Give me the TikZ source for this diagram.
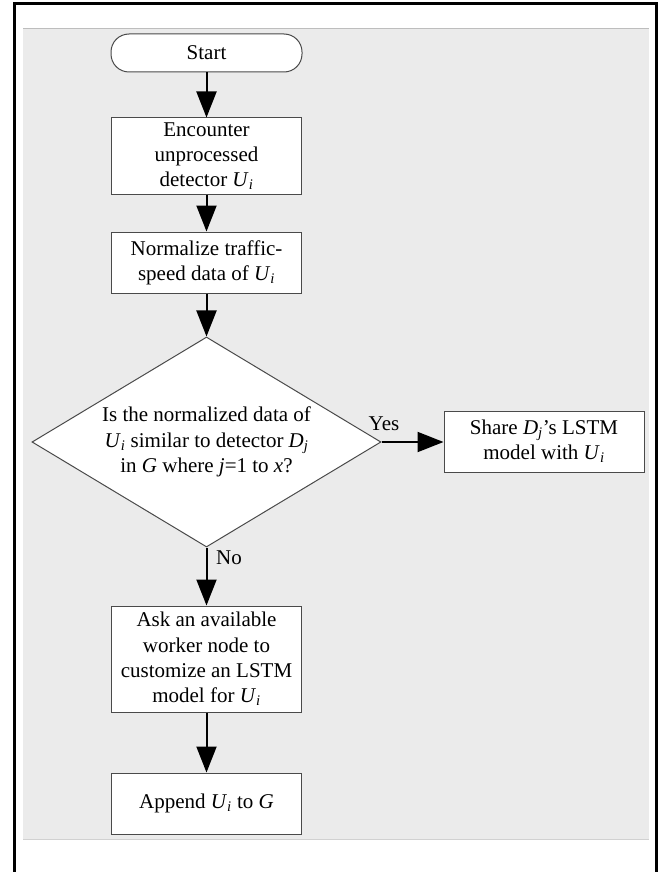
\documentclass[tikz,border=0pt]{standalone}
\usepackage{fontspec}
\setmainfont{Liberation Serif}
\usetikzlibrary{arrows.meta,shapes.geometric}
\definecolor{boxgray}{HTML}{4A4A4A}
\definecolor{bggray}{HTML}{EBEBEB}
\definecolor{lingray}{HTML}{BDBDBD}
\newcommand{\Ui}{\textit{U}\textsubscript{\textit{i}}}
\newcommand{\Dj}{\textit{D}\textsubscript{\textit{j}}}
\newcommand{\fs}{\fontsize{21pt}{25.3pt}\selectfont}
\begin{document}
\begin{tikzpicture}[x=1pt,y=-1pt,
  box/.style={draw=boxgray, line width=1pt, fill=white, inner sep=0pt, align=center, font=\fs, minimum width=190pt},
  arr/.style={line width=2pt, -{Triangle[length=26pt,width=20pt]}},
  lbl/.style={font=\fs, inner sep=0pt}]
\useasboundingbox (0,0) rectangle (661,872);
% background
\fill[bggray] (23,28) rectangle (649,840);
\draw[lingray, line width=1pt] (23,28.5) -- (649,28.5);
\draw[lingray!70, line width=1pt] (23,839.5) -- (649,839.5);
\draw[black, line width=2.5pt] (14.5,872) -- (14.5,3.5) -- (656.5,3.5) -- (656.5,872);
% nodes
\node[box, rounded corners=18pt, minimum height=38pt, minimum width=191pt] (start) at (206.5,53) {Start};
\node[box, minimum height=76pt] (enc) at (206.5,156) {Encounter\\unprocessed\\detector \Ui};
\node[box, minimum height=61pt] (norm) at (206.5,262.5) {Normalize traffic-\\speed data of \Ui};
\node[box, shape=diamond, shape aspect=1.66, minimum width=349pt, minimum height=210pt] (dec) at (206.5,442)
  {Is the normalized data of\\\Ui{} similar to detector \Dj\\in \textit{G} where \textit{j}=1 to \textit{x}?};
\node[box, minimum width=200pt, minimum height=61pt] (share) at (544,441.5) {Share \Dj’s LSTM\\model with \Ui};
\node[box, minimum height=106pt] (ask) at (206.5,659) {Ask an available\\worker node to\\customize an LSTM\\model for \Ui};
\node[box, minimum height=61pt] (app) at (206.5,803.5) {Append \Ui{} to \textit{G}};
% connectors
\draw[arr] (start) -- (enc);
\draw[arr] (enc) -- (norm);
\draw[arr] (norm) -- (dec);
\draw[arr] (dec.east) -- (dec.east -| share.west);
\draw[arr] (dec) -- (ask);
\draw[arr] (ask) -- (app);
% labels
\node[lbl] (yes) at (384,424) {Yes};
\node[lbl, anchor=west] (no) at (216,558) {No};
\end{tikzpicture}
\end{document}
